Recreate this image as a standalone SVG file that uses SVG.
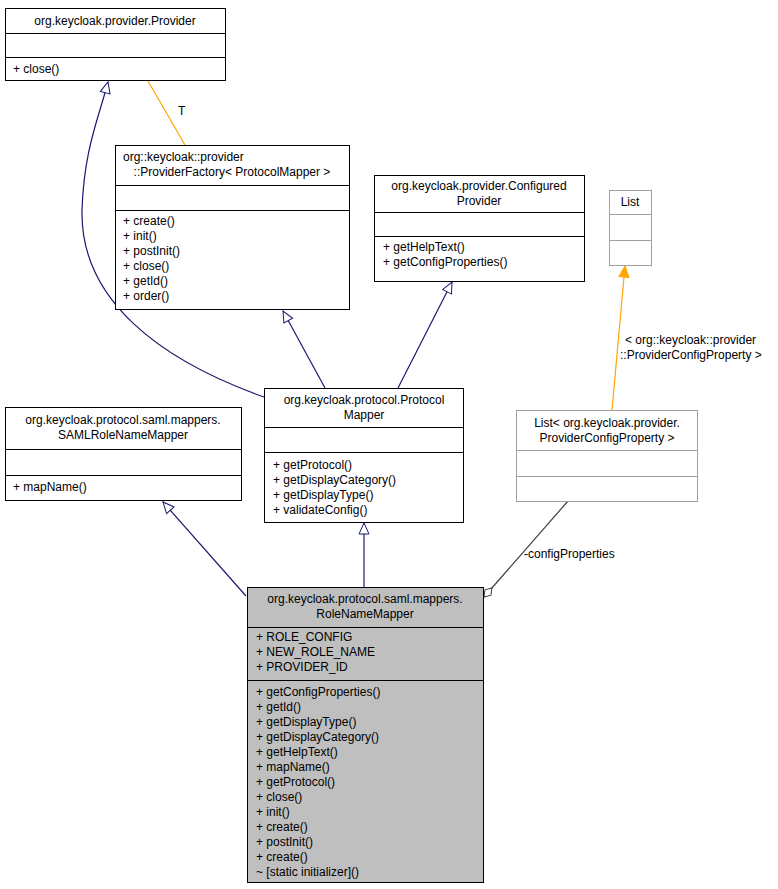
<svg xmlns="http://www.w3.org/2000/svg" width="778" height="889" viewBox="0 0 778 889">
<style>
text{font-family:"Liberation Sans",Arial,sans-serif;font-size:12px;fill:#000}
.b{fill:#fff;stroke:#000;stroke-width:1}
.g{fill:#fff;stroke:#a0a0a0;stroke-width:1}
.m{fill:#bfbfbf;stroke:#000;stroke-width:1}
.l{stroke:#000;stroke-width:1}
.lg{stroke:#a0a0a0;stroke-width:1}
.e{fill:none;stroke:#191970;stroke-width:1.2}
.o{fill:none;stroke:#ffa500;stroke-width:1.2}
.c{text-anchor:middle}
</style>
<defs>
<marker id="tri" markerWidth="14" markerHeight="14" refX="12" refY="6" orient="auto" markerUnits="userSpaceOnUse"><path d="M1,1 L12,6 L1,11 Z" fill="#fff" stroke="#191970"/></marker>
<marker id="otri" markerWidth="14" markerHeight="14" refX="12" refY="6" orient="auto" markerUnits="userSpaceOnUse"><path d="M1,1 L12,6 L1,11 Z" fill="#ffa500" stroke="#ffa500"/></marker>
<marker id="dia" markerWidth="16" markerHeight="12" refX="13" refY="6" orient="auto" markerUnits="userSpaceOnUse"><path d="M1,6 L7,2 L13,6 L7,10 Z" fill="#fff" stroke="#404040"/></marker>
</defs>
<g id="connectors">
<path class="e" d="M264,397 C160,360 80,300 82,210 C84,150 98,120 108,82" marker-end="url(#tri)"/>
<path class="o" d="M185,145 L148,81"/>
<text x="178" y="115">T</text>
<path class="e" d="M325,388 L283,311" marker-end="url(#tri)"/>
<path class="e" d="M398,388 L452,282" marker-end="url(#tri)"/>
<path class="o" d="M612,410 L625,266" marker-end="url(#otri)"/>
<text x="625" y="344">&lt; org::keycloak::provider</text>
<text x="620" y="359">::ProviderConfigProperty &gt;</text>
<path class="e" d="M246,596 L163,502" marker-end="url(#tri)"/>
<path class="e" d="M364,587 L364,523" marker-end="url(#tri)"/>
<path d="M568,501 L484,597" stroke="#404040" stroke-width="1.2" fill="none" marker-end="url(#dia)"/>
<text x="524" y="558">-configProperties</text>
</g>
<g id="Provider">
<rect class="b" x="5.5" y="8.5" width="220" height="72"/>
<line class="l" x1="5.5" y1="33.5" x2="225.5" y2="33.5"/>
<line class="l" x1="5.5" y1="57.5" x2="225.5" y2="57.5"/>
<text x="115" y="25" class="c">org.keycloak.provider.Provider</text>
<text x="13" y="73">+ close()</text>
</g>
<g id="ProviderFactory">
<rect class="b" x="115.5" y="145.5" width="234" height="164"/>
<line class="l" x1="115.5" y1="185.5" x2="349.5" y2="185.5"/>
<line class="l" x1="115.5" y1="210.5" x2="349.5" y2="210.5"/>
<text x="123" y="161">org::keycloak::provider</text>
<text x="232" y="176" class="c">::ProviderFactory&lt; ProtocolMapper &gt;</text>
<text x="123" y="225">+ create()</text>
<text x="123" y="240">+ init()</text>
<text x="123" y="255">+ postInit()</text>
<text x="123" y="270">+ close()</text>
<text x="123" y="285">+ getId()</text>
<text x="123" y="300">+ order()</text>
</g>
<g id="ConfiguredProvider">
<rect class="b" x="374.5" y="175.5" width="210" height="106"/>
<line class="l" x1="374.5" y1="212.5" x2="584.5" y2="212.5"/>
<line class="l" x1="374.5" y1="236.5" x2="584.5" y2="236.5"/>
<text x="479" y="190" class="c">org.keycloak.provider.Configured</text>
<text x="479" y="205" class="c">Provider</text>
<text x="383" y="251">+ getHelpText()</text>
<text x="383" y="266">+ getConfigProperties()</text>
</g>
<g id="List">
<rect class="g" x="609.5" y="190.5" width="42" height="75"/>
<line class="lg" x1="609.5" y1="214.5" x2="651.5" y2="214.5"/>
<line class="lg" x1="609.5" y1="240.5" x2="651.5" y2="240.5"/>
<text x="630" y="206" class="c">List</text>
</g>
<g id="ProtocolMapper">
<rect class="b" x="264.5" y="388.5" width="199" height="134"/>
<line class="l" x1="264.5" y1="427.5" x2="463.5" y2="427.5"/>
<line class="l" x1="264.5" y1="452.5" x2="463.5" y2="452.5"/>
<text x="364" y="404" class="c">org.keycloak.protocol.Protocol</text>
<text x="364" y="419" class="c">Mapper</text>
<text x="273" y="469">+ getProtocol()</text>
<text x="273" y="484">+ getDisplayCategory()</text>
<text x="273" y="499">+ getDisplayType()</text>
<text x="273" y="514">+ validateConfig()</text>
</g>
<g id="SAMLRoleNameMapper">
<rect class="b" x="5.5" y="407.5" width="236" height="93"/>
<line class="l" x1="5.5" y1="449.5" x2="241.5" y2="449.5"/>
<line class="l" x1="5.5" y1="475.5" x2="241.5" y2="475.5"/>
<text x="123" y="424" class="c">org.keycloak.protocol.saml.mappers.</text>
<text x="123" y="439" class="c">SAMLRoleNameMapper</text>
<text x="13" y="491">+ mapName()</text>
</g>
<g id="ListConfig">
<rect class="g" x="516.5" y="410.5" width="181" height="91"/>
<line class="lg" x1="516.5" y1="450.5" x2="697.5" y2="450.5"/>
<line class="lg" x1="516.5" y1="476.5" x2="697.5" y2="476.5"/>
<text x="607" y="427" class="c">List&lt; org.keycloak.provider.</text>
<text x="607" y="442" class="c">ProviderConfigProperty &gt;</text>
</g>
<g id="RoleNameMapper">
<rect class="m" x="247.5" y="587.5" width="236" height="295"/>
<line class="l" x1="247.5" y1="627.5" x2="483.5" y2="627.5"/>
<line class="l" x1="247.5" y1="680.5" x2="483.5" y2="680.5"/>
<text x="365" y="603" class="c">org.keycloak.protocol.saml.mappers.</text>
<text x="365" y="618" class="c">RoleNameMapper</text>
<text x="256" y="641">+ ROLE_CONFIG</text>
<text x="256" y="656">+ NEW_ROLE_NAME</text>
<text x="256" y="671">+ PROVIDER_ID</text>
<text x="256" y="696">+ getConfigProperties()</text>
<text x="256" y="711">+ getId()</text>
<text x="256" y="726">+ getDisplayType()</text>
<text x="256" y="741">+ getDisplayCategory()</text>
<text x="256" y="756">+ getHelpText()</text>
<text x="256" y="771">+ mapName()</text>
<text x="256" y="786">+ getProtocol()</text>
<text x="256" y="801">+ close()</text>
<text x="256" y="816">+ init()</text>
<text x="256" y="831">+ create()</text>
<text x="256" y="846">+ postInit()</text>
<text x="256" y="861">+ create()</text>
<text x="256" y="876">~ [static initializer]()</text>
</g>
</svg>
